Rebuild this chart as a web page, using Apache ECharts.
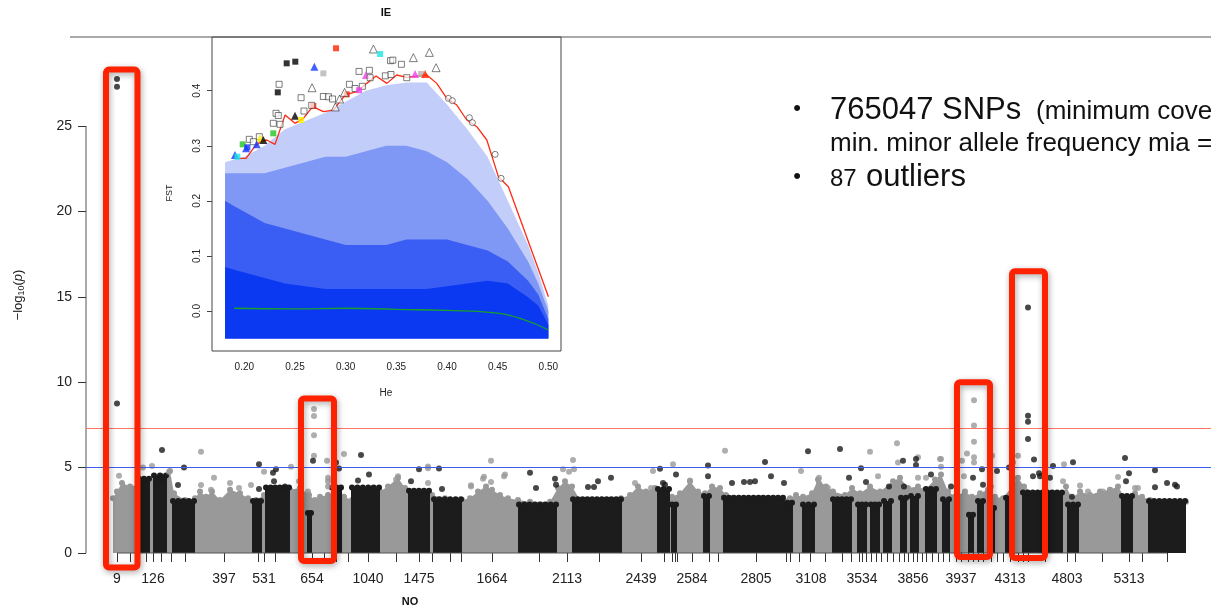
<!DOCTYPE html>
<html><head><meta charset="utf-8">
<script src="https://cdn.jsdelivr.net/npm/echarts@6/dist/echarts.min.js"></script>
<style>html,body{margin:0;padding:0;background:#fff}#c{width:1211px;height:610px}</style>
</head><body><div id="c"></div>
<script>
// ================= Manhattan plot (cumulative position units) =================
const tickPos = [31,44,53,60,67,75,85,99,138,172,178,189,214,226,238,250,262,282,310,333,346,364,375,406,453,481,513,555,578,586,589,591,606,623,632,670,700,704,713,724,739,756,765,773,776,780,785,790,795,801,807,813,818,822,827,831,836,840,846,852,857,863,870,875,882,887,892,897,905,911,917,924,932,937,942,959,981,989,1016,1043,1056,1081];
const tickLabelPos = [31,67,138,178,226,282,333,406,481,555,606,670,725,776,827,875,924,981,1043];
const tickLabels = ['9','126','397','531','654','1040','1475','1664','2113','2439','2584','2805','3108','3534','3856','3937','4313','4803','5313'];
const yTicks = [0,5,10,15,20,25];

// grey background mass (upper envelope of grey contigs)
const greyX = [27,27,31,36,44,52,59,66,74,80,84,88,99,109,114,120,126,134,144,154,162,170,178,186,196,204,214,223,229,234,242,249,258,266,284,294,302,312,319,324,339,346,359,376,384,392,400,406,414,422,432,444,464,472,479,486,494,524,535,544,552,560,569,578,586,594,604,612,619,626,634,640,674,704,710,717,726,732,740,747,759,766,774,784,794,807,814,822,832,839,849,855,862,869,879,886,894,902,909,917,926,932,938,949,976,980,986,994,1004,1014,1024,1032,1038,1049,1056,1064,1100,1100];
const greyTop = [0,3.2,3.6,4.1,3.9,4.0,3.8,4.2,3.6,4.2,4.8,3.5,3.1,3.2,3.6,3.3,3.6,3.1,3.7,3.5,3.2,3.1,3.4,3.2,3.5,3.7,3.8,3.4,3.1,3.3,3.4,3.2,3.3,3.1,3.0,3.6,3.9,4.4,3.8,3.6,3.3,3.4,3.2,3.1,3.2,3.6,3.9,3.7,3.4,3.2,3.1,3.0,3.0,3.8,4.2,3.9,3.1,3.1,3.2,3.4,3.9,3.6,3.8,3.4,3.3,3.5,4.2,3.6,3.5,3.9,3.8,3.4,3.2,3.2,3.4,3.3,3.5,4.3,3.9,3.6,3.4,3.8,3.5,3.9,3.6,4.2,4.4,3.8,3.9,3.7,4.3,4.6,3.6,3.3,3.6,3.3,3.5,3.7,3.3,3.2,3.9,4.4,3.9,3.4,3.3,3.9,3.2,3.6,3.4,3.6,3.7,3.9,3.3,3.5,3.3,3.1,3.0,0];

// black contigs: start, end, top
const blackStart = [53,68,87,167,180,222,246,266,323,348,433,487,572,586,618,638,697,717,747,772,785,798,815,825,840,857,883,892,905,920,937,982,1036,1063];
const blackEnd   = [63,80,108,175,203,225,255,293,343,375,470,535,583,590,623,697,706,728,765,780,793,805,820,832,850,863,887,897,908,925,976,992,1046,1099];
const blackTop   = [4.4,4.6,3.1,3.1,3.9,2.4,3.9,3.9,3.7,3.2,2.9,3.2,3.8,2.9,3.4,3.3,3.0,2.9,3.2,2.9,2.9,3.1,3.3,3.4,3.8,3.2,2.3,3.1,2.7,3.3,3.6,2.9,3.4,3.1];

// individual SNPs standing out above the masses: [position, -log10(p)]
const blackPts = [[31,27.75],[31,27.3],[31,8.75],[76,6.03],[98,5.0],[173,5.19],[92,3.98],[75,4.5],[75,4.3],[173,3.75],[187,4.7],[188,4.2],[190,4.9],[199,3.9],[227,5.4],[250,5.3],[253,4.95],[275,5.74],[283,4.6],[272,4.25],[333,4.9],[353,4.95],[325,4.2],[356,3.75],[444,4.7],[469,4.35],[512,4.2],[525,4.4],[508,3.87],[502,3.87],[450,3.8],[470,4.0],[722,5.95],[754,6.09],[679,5.33],[622,5.12],[574,4.93],[590,4.6],[622,4.5],[685,4.5],[646,4.1],[658,4.15],[664,4.15],[669,4.2],[698,4.1],[577,4.1],[579,4.0],[942,14.38],[942,8.04],[942,7.69],[942,6.67],[775,4.96],[817,5.4],[830,5.5],[830,5.15],[896,4.9],[911,4.8],[923,5.0],[763,4.4],[780,4.15],[803,3.9],[818,3.9],[845,4.6],[865,3.9],[887,4.4],[897,4.0],[948,5.47],[953,4.67],[967,5.1],[987,5.31],[1039,5.56],[1069,4.84],[1043,4.67],[1040,4.2],[1081,4.1],[1089,4.0],[1091,3.9],[1069,3.85],[986,3.3],[947,4.5],[954,4.5],[964,4.4]];
const greyPts = [[115,5.93],[66,5.1],[57,5.0],[178,4.76],[128,4.41],[115,3.98],[144,4.1],[153,3.8],[165,3.98],[33,4.53],[83,4.76],[125,3.7],[228,8.43],[228,8.02],[228,6.89],[228,5.7],[241,5.4],[258,5.8],[205,5.05],[242,4.4],[242,4.2],[242,3.9],[213,4.2],[222,3.6],[312,4.5],[310,4.3],[342,5.06],[342,4.1],[405,5.4],[487,5.44],[477,4.9],[483,4.75],[488,4.9],[419,4.6],[398,4.47],[405,4.15],[385,3.96],[549,4.1],[565,3.8],[567,4.8],[639,5.99],[587,5.2],[715,4.8],[733,4.4],[733,4.1],[604,4.25],[742,3.8],[888,8.94],[888,7.46],[888,6.52],[881,5.83],[888,5.6],[888,5.3],[811,6.42],[784,5.93],[812,5.3],[855,5.5],[855,5.05],[876,5.4],[906,5.7],[932,5.7],[792,4.5],[832,4.4],[840,4.4],[878,4.5],[905,3.9],[930,4.35],[978,5.2],[1032,4.45],[977,4.2],[994,3.95],[1024,3.7],[1017,3.6],[1002,3.6],[1049,3.8],[1052,3.8],[927,5.3],[832,5.6],[854,5.5],[397,4.35],[418,4.5],[385,3.9],[342,4.96]];

const thresholdRed = 7.3;
const thresholdBlue = 5;

// highlighted regions: x0, x1, top, bottom
const boxX0 = [20,215,871,926];
const boxX1 = [51.5,248,904,959];
const boxTop = [28.3,9.05,10.0,16.5];
const boxBottom = [-0.85,-0.47,-0.23,-0.29];

// ================= Inset: FST vs He =================
const heGrid   = [0.181,0.19,0.20,0.22,0.24,0.26,0.28,0.30,0.32,0.34,0.36,0.38,0.40,0.42,0.44,0.46,0.48,0.49,0.50];
const fstLight = [0.27,0.275,0.28,0.30,0.33,0.345,0.36,0.38,0.40,0.41,0.415,0.415,0.375,0.33,0.28,0.20,0.12,0.07,0.01];
const fstMid   = [0.25,0.25,0.25,0.25,0.26,0.27,0.28,0.28,0.29,0.30,0.30,0.29,0.27,0.24,0.20,0.15,0.09,0.05,0.0];
const fstDense = [0.20,0.19,0.18,0.16,0.15,0.14,0.13,0.12,0.12,0.12,0.13,0.13,0.13,0.12,0.11,0.09,0.055,0.03,-0.015];
const fstBase  = [0.08,0.075,0.07,0.06,0.05,0.045,0.04,0.04,0.04,0.04,0.04,0.04,0.045,0.05,0.055,0.05,0.025,0.01,-0.025];
const fstFloor = -0.05;

const redHe  = [0.1951,0.2017,0.2089,0.2155,0.2221,0.2303,0.2402,0.2500,0.2582,0.2675,0.2780,0.2879,0.2994,0.3110,0.3208,0.3300,0.3406,0.3504,0.3603,0.3801,0.3899,0.3998,0.4097,0.4195,0.4294,0.4393,0.4507,0.4606,0.5001];
const redFst = [0.2772,0.2772,0.2953,0.3074,0.3105,0.3026,0.3558,0.3407,0.3498,0.3710,0.3619,0.3649,0.3922,0.3982,0.4133,0.4267,0.4133,0.4285,0.4242,0.4285,0.4133,0.3861,0.3740,0.3468,0.3347,0.3105,0.2439,0.2257,0.0260];
const greenHe  = [0.19,0.25,0.30,0.35,0.40,0.445,0.475,0.50];
const greenFst = [0.005,0.004,0.005,0.003,0.001,-0.003,-0.015,-0.0345];

// outlier loci: He, FST, shape, fill (null = open symbol)
const mkHe = [0.2905,0.3274,0.334,0.3668,0.3826,0.3892,0.2418,0.2503,0.2691,0.278,0.3443,0.3465,0.355,0.3234,0.3132,0.3201,0.3241,0.3392,0.3447,0.3603,0.3685,0.3744,0.3784,0.2668,0.2343,0.233,0.256,0.278,0.283,0.287,0.3011,0.2989,0.294,0.2898,0.3037,0.3093,0.3165,0.3132,0.2681,0.2665,0.2589,0.25,0.256,0.2313,0.2335,0.2286,0.2352,0.2286,0.2148,0.2155,0.2188,0.2049,0.2089,0.2122,0.1984,0.203,0.2017,0.1908,0.1931,0.4014,0.4053,0.4221,0.4251,0.4475,0.4534];
const mkFst = [0.477,0.4757,0.4666,0.460,0.4696,0.4418,0.4497,0.4527,0.4436,0.4315,0.4545,0.4555,0.4479,0.437,0.435,0.4285,0.4236,0.427,0.4294,0.4236,0.4303,0.4303,0.4303,0.4054,0.4116,0.397,0.3873,0.3895,0.389,0.385,0.3934,0.397,0.385,0.3705,0.4116,0.404,0.408,0.4007,0.3722,0.3734,0.3631,0.3546,0.3468,0.359,0.355,0.3408,0.339,0.3226,0.3165,0.3135,0.3105,0.3117,0.3074,0.3026,0.3026,0.2972,0.2953,0.2832,0.2802,0.3861,0.3819,0.351,0.342,0.2845,0.241];
const mkShape = ['rect','triangle','rect','triangle','triangle','triangle','rect','rect','triangle','rect','rect','rect','rect','rect','rect','triangle','rect','rect','rect','rect','triangle','rect','triangle','triangle','rect','rect','rect','rect','rect','rect','rect','triangle','triangle','triangle','rect','rect','rect','rect','rect','rect','rect','triangle','rect','rect','rect','rect','rect','rect','rect','triangle','triangle','rect','rect','triangle','rect','rect','triangle','triangle','rect','circle','circle','circle','circle','circle','circle'];
const mkFill = ['#ff2200',null,'#19e3e3',null,null,null,'#000','#000','#1438ff','#b4b4b4',null,null,null,null,null,'#ee44ee',null,null,null,null,'#ee44ee','#b4b4b4','#ff2200',null,null,'#000',null,null,null,null,'#ff2200',null,null,null,null,null,null,'#ee44ee','#ff2200',null,null,'#000','#ffee00',null,null,null,null,'#22c422',null,'#ffee00','#000',null,null,'#1438ff','#22c422','#1438ff','#1438ff','#1438ff','#19e3e3',null,null,null,null,null,null];

// ================= chart =================
const FONT = '"Liberation Sans", Arial, Helvetica, sans-serif';
const chart = echarts.init(document.getElementById('c'), null, {renderer: 'canvas'});

const insetLayers = [
  {top: fstLight, color: '#c2cdfa'},
  {top: fstMid, color: '#7f97f5'},
  {top: fstDense, color: '#3a5df3'},
  {top: fstBase, color: '#0b39f2'}
];

function dottedTop(pts, fill) {
  // small round dots along a top outline, to mimic overplotted points
  return pts.map(p => ({type: 'circle', shape: {cx: p[0], cy: p[1], r: 3}, style: {fill: fill}}));
}

const option = {
  animation: false,
  backgroundColor: '#ffffff',
  grid: [
    {left: 86, right: 0, top: 37, bottom: 57},
    {left: 212, top: 37, width: 349, height: 314, show: true, backgroundColor: '#ffffff', borderColor: '#444', borderWidth: 1, z: 5}
  ],
  xAxis: [
    {type: 'value', gridIndex: 0, min: 0, max: 1125,
      axisLine: {show: false}, splitLine: {show: false},
      axisTick: {show: true, customValues: tickPos, length: 9, lineStyle: {color: '#333', width: 1}},
      axisLabel: {show: true, customValues: tickLabelPos, margin: 19, fontSize: 14, color: '#222', fontFamily: FONT,
        formatter: v => { const i = tickLabelPos.indexOf(v); return i >= 0 ? tickLabels[i] : ''; }}
    },
    {type: 'value', gridIndex: 1, min: 0.1681, max: 0.5125,
      axisLine: {show: false}, splitLine: {show: false},
      axisTick: {show: true, customValues: [0.2,0.25,0.3,0.35,0.4,0.45,0.5], length: 5, lineStyle: {color: '#444'}},
      axisLabel: {show: true, customValues: [0.2,0.25,0.3,0.35,0.4,0.45,0.5], margin: 11, fontSize: 10, color: '#222', fontFamily: FONT,
        formatter: v => v.toFixed(2)}
    }
  ],
  yAxis: [
    {type: 'value', gridIndex: 0, min: 0, max: 30.21,
      axisLine: {show: false}, splitLine: {show: false},
      axisTick: {show: true, customValues: yTicks, length: 8, lineStyle: {color: '#333'}},
      axisLabel: {show: true, customValues: yTicks, margin: 14, fontSize: 14, color: '#222', fontFamily: FONT},
      name: '{t|−log}{s|10}{t|(}{i|p}{t|)}', nameLocation: 'middle', nameGap: 60, nameRotate: 90,
      nameTextStyle: {fontFamily: FONT, color: '#222', rich: {
        t: {fontSize: 13, fontFamily: FONT, color: '#222'},
        s: {fontSize: 9, fontFamily: FONT, color: '#222', padding: [6, 0, 0, 0]},
        i: {fontSize: 13, fontFamily: FONT, color: '#222', fontStyle: 'italic'}
      }}
    },
    {type: 'value', gridIndex: 1, min: -0.0726, max: 0.4975,
      axisLine: {show: false}, splitLine: {show: false},
      axisTick: {show: true, customValues: [0,0.1,0.2,0.3,0.4], length: 5, lineStyle: {color: '#444'}},
      axisLabel: {show: true, customValues: [0,0.1,0.2,0.3,0.4], rotate: 90, margin: 10, fontSize: 10, color: '#222', fontFamily: FONT,
        formatter: v => v.toFixed(1)}
    }
  ],
  series: [
    // grey mass
    {type: 'custom', xAxisIndex: 0, yAxisIndex: 0, silent: true, z: 1, data: [[0, 0]],
      renderItem: (p, api) => {
        const pts = greyX.map((x, i) => api.coord([x, greyTop[i]]));
        const tops = pts.filter((q, i) => greyTop[i] > 0);
        return {type: 'group', children: [
          {type: 'polygon', shape: {points: pts}, style: {fill: '#999999'}}
        ].concat(dottedTop(tops, '#999999'))};
      }
    },
    // black contigs
    {type: 'custom', xAxisIndex: 0, yAxisIndex: 0, silent: true, z: 2,
      data: blackStart.map((s, i) => [s, blackEnd[i], blackTop[i]]),
      encode: {x: [0, 1], y: 2},
      renderItem: (p, api) => {
        const a = api.coord([api.value(0), api.value(2)]);
        const b = api.coord([api.value(1), 0]);
        const w = b[0] - a[0];
        const dots = [];
        const n = Math.max(1, Math.round(w / 5));
        for (let k = 0; k <= n; k++) dots.push([a[0] + Math.min(w, k * w / n), a[1] + 1]);
        return {type: 'group', children: [
          {type: 'rect', shape: {x: a[0] - 1, y: a[1] + 1, width: w + 2, height: b[1] - a[1] - 1}, style: {fill: '#1c1c1c'}}
        ].concat(dottedTop(dots, '#1c1c1c'))};
      }
    },
    // grey SNPs + threshold lines
    {type: 'scatter', xAxisIndex: 0, yAxisIndex: 0, z: 3, symbolSize: 6, silent: true,
      itemStyle: {color: '#9a9a9a'}, data: greyPts,
      markLine: {silent: true, symbol: ['none', 'none'], label: {show: false}, animation: false,
        data: [
          {yAxis: thresholdRed, lineStyle: {color: '#ff7565', width: 1.2, type: 'solid'}},
          {yAxis: thresholdBlue, lineStyle: {color: '#3d5cf0', width: 1.2, type: 'solid'}}
        ]}
    },
    // black SNPs
    {type: 'scatter', xAxisIndex: 0, yAxisIndex: 0, z: 4, symbolSize: 6, silent: true,
      itemStyle: {color: '#1a1a1a'}, data: blackPts},
    // axis lines (R style: first to last tick)
    {type: 'line', xAxisIndex: 0, yAxisIndex: 0, clip: false, symbol: 'none', silent: true, z: 3,
      lineStyle: {color: '#555', width: 1}, data: [[0, yTicks[0]], [0, yTicks[yTicks.length - 1]]]},
    {type: 'line', xAxisIndex: 0, yAxisIndex: 0, clip: false, symbol: 'none', silent: true, z: 3,
      lineStyle: {color: '#555', width: 1}, data: [[tickPos[0], 0], [tickPos[tickPos.length - 1], 0]]},
    // red highlight boxes
    {type: 'custom', xAxisIndex: 0, yAxisIndex: 0, silent: true, z: 8, clip: false,
      data: boxX0.map((x, i) => [x, boxX1[i], boxTop[i], boxBottom[i]]),
      encode: {x: [0, 1], y: [2, 3]},
      renderItem: (p, api) => {
        const a = api.coord([api.value(0), api.value(2)]);
        const b = api.coord([api.value(1), api.value(3)]);
        return {type: 'rect', shape: {x: a[0], y: a[1], width: b[0] - a[0], height: b[1] - a[1], r: 3},
          style: {fill: null, stroke: '#ff2200', lineWidth: 6, shadowBlur: 6, shadowColor: 'rgba(0,0,0,0.35)', shadowOffsetX: 1, shadowOffsetY: 2}};
      }
    },
    // ===== inset =====
    {type: 'custom', xAxisIndex: 1, yAxisIndex: 1, silent: true, z: 6, data: insetLayers.map((l, i) => [i]),
      renderItem: (p, api) => {
        const layer = insetLayers[p.dataIndex];
        const pts = heGrid.map((h, i) => api.coord([h, layer.top[i]]));
        pts.push(api.coord([heGrid[heGrid.length - 1], fstFloor]));
        pts.push(api.coord([heGrid[0], fstFloor]));
        return {type: 'polygon', shape: {points: pts}, style: {fill: layer.color}};
      }
    },
    {type: 'line', xAxisIndex: 1, yAxisIndex: 1, symbol: 'none', silent: true, z: 7,
      lineStyle: {color: '#ff2a14', width: 1.3}, data: redHe.map((h, i) => [h, redFst[i]])},
    {type: 'line', xAxisIndex: 1, yAxisIndex: 1, symbol: 'none', smooth: true, silent: true, z: 7,
      lineStyle: {color: '#18a02a', width: 1.3}, data: greenHe.map((h, i) => [h, greenFst[i]])},
    {type: 'scatter', xAxisIndex: 1, yAxisIndex: 1, silent: true, z: 8,
      data: mkHe.map((h, i) => ({
        value: [h, mkFst[i]], symbol: mkShape[i],
        symbolSize: mkShape[i] === 'triangle' ? 8 : 6,
        itemStyle: mkFill[i] ? {color: mkFill[i], borderWidth: 0} : {color: 'rgba(255,255,255,0.85)', borderColor: '#333', borderWidth: 0.8}
      }))
    }
  ],
  graphic: [
    {type: 'line', shape: {x1: 70, y1: 37, x2: 1211, y2: 37}, style: {stroke: '#555', lineWidth: 1.2}, z: 20},
    {type: 'text', x: 386, y: 13, style: {text: 'IE', font: 'bold 11px ' + FONT, fill: '#111', align: 'center', verticalAlign: 'middle'}},
    {type: 'text', x: 410, y: 602, style: {text: 'NO', font: 'bold 11px ' + FONT, fill: '#111', align: 'center', verticalAlign: 'middle'}},
    {type: 'text', x: 386, y: 393, style: {text: 'He', font: '10px ' + FONT, fill: '#222', align: 'center', verticalAlign: 'middle'}},
    {type: 'text', x: 170, y: 193, rotation: Math.PI / 2, style: {text: 'FST', font: '9px ' + FONT, fill: '#222', align: 'center', verticalAlign: 'middle'}},
    {type: 'text', x: 797, y: 109, style: {text: '•', font: '22px ' + FONT, fill: '#111', align: 'center', verticalAlign: 'middle'}},
    {type: 'text', x: 830, y: 110, style: {text: '765047 SNPs', font: '31px ' + FONT, fill: '#111', align: 'left', verticalAlign: 'middle'}},
    {type: 'text', x: 1036, y: 112, style: {text: '(minimum coverage', font: '26px ' + FONT, fill: '#111', align: 'left', verticalAlign: 'middle'}},
    {type: 'text', x: 830, y: 144, style: {text: 'min. minor allele frequency mia =', font: '26px ' + FONT, fill: '#111', align: 'left', verticalAlign: 'middle'}},
    {type: 'text', x: 797, y: 177, style: {text: '•', font: '22px ' + FONT, fill: '#111', align: 'center', verticalAlign: 'middle'}},
    {type: 'text', x: 830, y: 179.5, style: {text: '87', font: '24px ' + FONT, fill: '#111', align: 'left', verticalAlign: 'middle'}},
    {type: 'text', x: 866, y: 177, style: {text: 'outliers', font: '31px ' + FONT, fill: '#111', align: 'left', verticalAlign: 'middle'}}
  ]
};
chart.setOption(option);
</script>
</body></html>
